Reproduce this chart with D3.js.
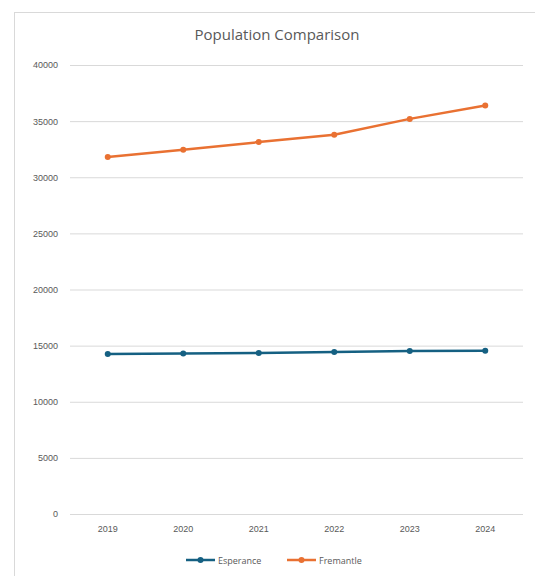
<!DOCTYPE html>
<html><head><meta charset="utf-8">
<script src="https://cdn.jsdelivr.net/npm/d3@7"></script>
<style>body{margin:0;background:#fff;font-family:"Open Sans",Lato,sans-serif}</style>
</head><body><svg id="c" width="535" height="576"></svg>
<script>
const years = ["2019","2020","2021","2022","2023","2024"];
const esperance = [14250, 14290, 14350, 14440, 14530, 14550];
const fremantle = [31800, 32450, 33130, 33780, 35200, 36400];
const yTicks = [0,5000,10000,15000,20000,25000,30000,35000,40000];
const seriesNames = ["Esperance","Fremantle"];
const colors = ["#156082","#E97132"];

const svg = d3.select("#c");
svg.append("rect").attr("x",14.5).attr("y",12.5).attr("width",530).attr("height",580)
  .attr("fill","#fff").attr("stroke","#d9d9d9");
svg.append("text").attr("x",277).attr("y",40).attr("text-anchor","middle")
  .attr("font-size",15).attr("fill","#595959").text("Population Comparison");

const x = d3.scaleBand().domain(years).range([70,523]);
const y = d3.scaleLinear().domain([0,40000]).range([514,65]);

const gy = svg.append("g").attr("transform","translate(70,0)")
  .call(d3.axisLeft(y).tickValues(yTicks).tickSize(-453).tickPadding(12).tickFormat(d3.format("d")));
gy.select(".domain").remove();
gy.selectAll("line").attr("stroke","#d9d9d9");
gy.selectAll("text").attr("fill","#595959").attr("font-size",9);

const gx = svg.append("g").attr("transform","translate(0,514)")
  .call(d3.axisBottom(x).tickSize(0).tickPadding(12));
gx.select(".domain").remove();
gx.selectAll("text").attr("fill","#595959").attr("font-size",9);

const data = [esperance, fremantle];
const line = d3.line().x((d,i)=>x(years[i])+x.bandwidth()/2).y(d=>y(d));
data.forEach((s,k)=>{
  svg.append("path").datum(s).attr("d",line).attr("fill","none")
    .attr("stroke",colors[k]).attr("stroke-width",2.5).attr("stroke-linejoin","round");
  svg.selectAll(null).data(s).enter().append("circle")
    .attr("cx",(d,i)=>x(years[i])+x.bandwidth()/2).attr("cy",d=>y(d)).attr("r",3)
    .attr("fill",colors[k]);
});

const leg = [{x:186, tx:218},{x:287, tx:319}];
seriesNames.forEach((n,k)=>{
  const g = svg.append("g");
  g.append("line").attr("x1",leg[k].x).attr("x2",leg[k].x+29).attr("y1",560).attr("y2",560)
    .attr("stroke",colors[k]).attr("stroke-width",2.5);
  g.append("circle").attr("cx",leg[k].x+14.5).attr("cy",560).attr("r",3).attr("fill",colors[k]);
  g.append("text").attr("x",leg[k].tx).attr("y",563.5).attr("font-size",9).attr("fill","#595959").text(n);
});
</script></body></html>
